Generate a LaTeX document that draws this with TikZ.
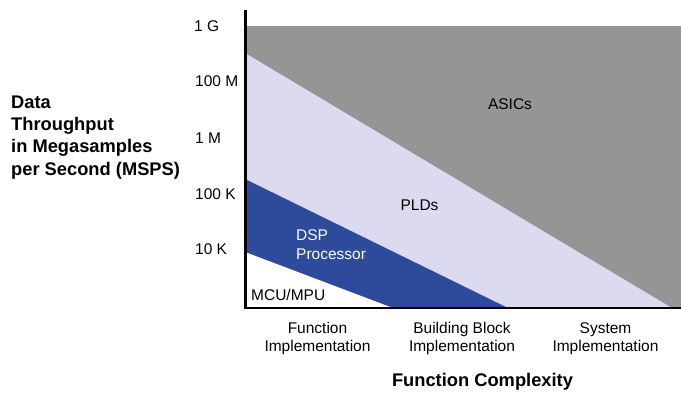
\documentclass[tikz,border=0pt]{standalone}
\usepackage{fontspec}
\setmainfont{Liberation Sans}
\definecolor{asicgray}{HTML}{959595}
\definecolor{pldlav}{HTML}{DCDAEE}
\definecolor{dspblue}{HTML}{2E4B9B}
\begin{document}
\begin{tikzpicture}[x=1pt,y=-1pt,
  tick/.style={font=\fontsize{15.5}{18}\selectfont, inner sep=0pt, anchor=base west},
  lab/.style={font=\fontsize{15.5}{18}\selectfont, inner sep=0pt, anchor=base},
  region/.style={font=\fontsize{15.5}{18}\selectfont, inner sep=0pt, anchor=base},
  title/.style={font=\fontsize{18.3}{22}\selectfont\bfseries, inner sep=0pt}]
\useasboundingbox (0,0) rectangle (681,392);

% technology regions
\fill[asicgray] (245,26) rectangle (681,308);
\fill[pldlav] (245,53) -- (672,308) -- (245,308) -- cycle;
\fill[dspblue] (245,179) -- (508,308) -- (245,308) -- cycle;
\fill[white] (245,252) -- (393,308) -- (245,308) -- cycle;

% axes
\draw[line width=2.7pt] (245.3,10) coordinate (ytop) -- (245.3,308) coordinate (origin) -- (681,308) coordinate (xend);

% throughput ticks
\node[tick] (t1g)   at (194,31)  {1 G};
\node[tick] (t100m) at (195,86)  {100 M};
\node[tick] (t1m)   at (195,143) {1 M};
\node[tick] (t100k) at (195,199) {100 K};
\node[tick] (t10k)  at (195,254) {10 K};

% region names
\node[region] (asic) at (510,109) {ASICs};
\node[region] (pld)  at (419.5,210.5) {PLDs};
\node[region, anchor=base west, text=white] (dsp1) at (296,240) {DSP};
\node[region, anchor=base west, text=white] (dsp2) at (296,259.5) {Processor};
\node[region, anchor=base west] (mcu) at (251,300) {MCU/MPU};

% complexity categories
\node[lab] (c1a) at (317.5,333.5) {Function};
\node[lab] (c1b) at (317.5,351) {Implementation};
\node[lab] (c2a) at (462,333.5) {Building Block};
\node[lab] (c2b) at (462,351) {Implementation};
\node[lab] (c3a) at (605.5,333.5) {System};
\node[lab] (c3b) at (605.5,351) {Implementation};

% axis titles
\node[title, anchor=base west] (y1) at (11,108) {Data};
\node[title, anchor=base west] (y2) at (11,130.3) {Throughput};
\node[title, anchor=base west] (y3) at (11,152.6) {in Megasamples};
\node[title, anchor=base west] (y4) at (11,175) {per Second (MSPS)};
\node[title, anchor=base] (xt) at (482.5,386) {Function Complexity};
\end{tikzpicture}
\end{document}
